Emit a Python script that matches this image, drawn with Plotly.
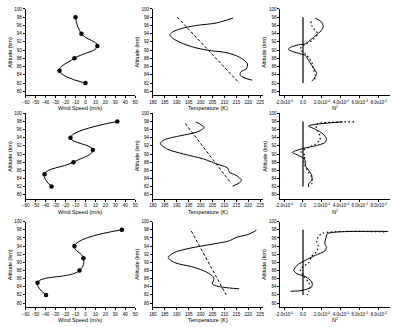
import plotly.graph_objects as go

# ---------------- data ----------------
wind_alt = [98, 94, 91, 88, 85, 82]
wind_r1 = [-10, -4, 12, -11, -26, 0]
wind_r2 = [32, -15, 7.5, -12, -41, -34]
wind_r3 = [36.5, -11, -2, -6, -48, -39.5]

temp1_alt = [97.8, 96.6, 96.0, 95.2, 94.4, 93.7, 92.9, 91.5, 90.5, 89.9, 89.4, 88.3, 86.7, 85.5, 84.7, 83.9, 83.3, 82.7]
temp1_T = [213.6, 206.6, 198.4, 191.6, 188.2, 187.1, 188.2, 193.0, 198.4, 203.9, 210.7, 216.2, 219.6, 219.2, 216.8, 216.6, 218.2, 221.6]
model1_alt = [98, 82]
model1_T = [190.2, 216.2]

temp2_alt = [97.9, 96.5, 95.4, 94.5, 93.5, 92.6, 91.2, 90.0, 88.8, 87.6, 86.5, 85.5, 84.8, 83.5, 82.9, 82.1]
temp2_T = [198.0, 201.4, 198.4, 191.6, 184.8, 183.1, 186.1, 192.9, 201.1, 206.6, 211.4, 212.1, 214.8, 217.1, 216.2, 213.4]
model2_alt = [97.5, 83]
model2_T = [193.6, 212.5]

temp3_alt = [97.9, 96.9, 96.1, 95.3, 94.5, 93.5, 92.4, 91.2, 90.0, 88.8, 87.6, 86.5, 85.7, 84.7, 84.1, 83.7, 83.5]
temp3_T = [223.4, 220.2, 214.8, 212.1, 205.2, 195.7, 188.9, 186.4, 188.9, 197.1, 202.5, 205.2, 205.5, 204.9, 207.3, 212.1, 216.2]
model3_alt = [97.7, 82]
model3_T = [196.1, 210.7]

# N^2 in units of 1e-4
n1_alt = [97.8, 96.8, 95.6, 94.4, 93.1, 92.1, 91.5, 91.3, 90.7, 90.2, 89.7, 89.1, 88.7, 87.5, 86.3, 85.1, 84.3, 83.5, 82.9, 82.4]
n1 = [1.28, 1.97, 2.14, 1.79, 1.10, 0.59, 0.24, -0.45, -1.31, -1.55, -1.14, -0.28, 0.24, 0.59, 0.93, 1.28, 1.45, 1.28, 1.10, 0.93]
n1d_alt = [97.0, 96.0, 94.8, 94.0, 92.3, 91.1, 90.3, 88.7, 87.1, 85.5, 83.9, 82.3]
n1d = [0.83, 0.93, 1.28, 1.55, 0.93, 0.0, -0.28, 0.41, 0.93, 1.10, 1.28, 1.20]

n2_alt = [97.9, 96.9, 96.1, 94.9, 93.7, 92.8, 92.0, 91.4, 90.8, 90.4, 89.8, 89.2, 88.4, 87.2, 86.0, 84.7, 83.5, 82.7, 81.9]
n2 = [4.2, 0.59, 1.28, 2.14, 2.48, 2.31, 1.28, 0.07, -0.79, -1.14, -0.62, -0.10, 0.24, 0.24, 0.59, 0.93, 0.93, 0.59, 0.59]
n2d_alt = [97.9, 97.2, 95.7, 94.5, 93.5, 92.4, 91.6, 90.5, 89.6, 88.4, 87.2, 85.5, 84.3, 82.7, 82.2]
n2d = [5.4, 1.4, 1.55, 1.79, 1.79, 1.28, 0.59, -0.20, 0.24, 0.07, 0.24, 0.59, 0.93, 0.93, 0.76]

n3_alt = [97.6, 97.1, 96.5, 94.5, 93.7, 92.8, 91.7, 90.5, 89.3, 88.0, 87.2, 86.5, 85.2, 84.0, 83.1, 82.9]
n3 = [9.0, 2.6, 2.48, 2.31, 2.48, 2.31, 1.28, 0.24, -0.62, -0.97, -0.62, 0.24, 0.93, 0.93, -0.10, -1.31]
n3d_alt = [97.5, 97.2, 96.3, 95.1, 93.9, 92.7, 91.5, 89.9, 88.3, 86.7, 85.1, 84.0, 82.8, 82.0]
n3d = [8.6, 2.14, 1.62, 1.45, 1.62, 1.45, 0.93, 0.59, -0.28, 0.07, 0.59, 0.76, 0.59, 0.41]

zero_line_alt = [82, 98]
zero_line_x = [0, 0]

alt_ticks = [80, 82, 84, 86, 88, 90, 92, 94, 96, 98, 100]
wind_ticks = [-60, -50, -40, -30, -20, -10, 0, 10, 20, 30, 40, 50]
temp_ticks = [180, 185, 190, 195, 200, 205, 210, 215, 220, 225]
n2_ticks = [-2, 0, 2, 4, 6, 8]
n2_ticktext = ["-2.0x10<sup>-4</sup>", "0.0", "2.0x10<sup>-4</sup>", "4.0x10<sup>-4</sup>",
               "6.0x10<sup>-4</sup>", "8.0x10<sup>-4</sup>"]

# ---------------- layout geometry ----------------
W, H = 394, 327
col_px = [(21, 133), (151, 263), (281, 393)]
row_px = [(7, 94), (112, 198), (221, 307)]

FONT = "Liberation Sans, Arial, sans-serif"
fig = go.Figure()


def ax(i):
    return ("x" if i == 1 else f"x{i}"), ("y" if i == 1 else f"y{i}")


wind = [wind_r1, wind_r2, wind_r3]
temps = [(temp1_T, temp1_alt, model1_T, model1_alt),
         (temp2_T, temp2_alt, model2_T, model2_alt),
         (temp3_T, temp3_alt, model3_T, model3_alt)]
ns = [(n1, n1_alt, n1d, n1d_alt), (n2, n2_alt, n2d, n2d_alt), (n3, n3_alt, n3d, n3d_alt)]

annotations = []
for r in range(3):
    i = r * 3 + 1
    xa, ya = ax(i)
    fig.add_trace(go.Scatter(x=wind[r], y=wind_alt, mode="lines+markers",
                             line=dict(color="black", width=1, shape="spline", smoothing=1.3),
                             marker=dict(color="black", size=4.5),
                             xaxis=xa, yaxis=ya, showlegend=False))
    i = r * 3 + 2
    xa, ya = ax(i)
    T, Ta, M, Ma = temps[r]
    fig.add_trace(go.Scatter(x=T, y=Ta, mode="lines",
                             line=dict(color="black", width=1, shape="spline", smoothing=0.9),
                             xaxis=xa, yaxis=ya, showlegend=False))
    fig.add_trace(go.Scatter(x=M, y=Ma, mode="lines",
                             line=dict(color="black", width=1, dash="3px,2px"),
                             xaxis=xa, yaxis=ya, showlegend=False))
    i = r * 3 + 3
    xa, ya = ax(i)
    N, Na, D, Da = ns[r]
    fig.add_trace(go.Scatter(x=zero_line_x, y=zero_line_alt, mode="lines",
                             line=dict(color="black", width=1.2),
                             xaxis=xa, yaxis=ya, showlegend=False))
    fig.add_trace(go.Scatter(x=N, y=Na, mode="lines",
                             line=dict(color="black", width=1, shape="spline", smoothing=0.8),
                             xaxis=xa, yaxis=ya, showlegend=False))
    fig.add_trace(go.Scatter(x=D, y=Da, mode="lines",
                             line=dict(color="black", width=1.2, dash="1.5px,2.5px", shape="spline", smoothing=0.8),
                             xaxis=xa, yaxis=ya, showlegend=False))

layout = dict(width=W, height=H, margin=dict(l=0, r=0, t=0, b=0),
              paper_bgcolor="white", plot_bgcolor="white",
              font=dict(family=FONT, color="black"))

xtitles = ["Wind Speed (m/s)", "Temperature (K)", "N<sup>2</sup>"]
xranges = [[-60, 50], [180, 226], [-2.4, 9.2]]
for r in range(3):
    for c in range(3):
        i = r * 3 + c + 1
        x0, x1 = col_px[c]
        y0, y1 = row_px[r]
        xd = [x0 / W, x1 / W]
        yd = [1 - y1 / H, 1 - y0 / H]
        xk = "xaxis" if i == 1 else f"xaxis{i}"
        yk = "yaxis" if i == 1 else f"yaxis{i}"
        yname = "y" if i == 1 else f"y{i}"
        xname = "x" if i == 1 else f"x{i}"
        xa = dict(domain=xd, anchor=yname, range=xranges[c], showgrid=False, zeroline=False,
                  showline=True, linecolor="black", linewidth=1, ticks="outside", ticklen=2,
                  tickwidth=0.8, tickcolor="black", tickangle=0,
                  tickfont=dict(size=4.5, family=FONT))
        if c == 0:
            xa.update(tickmode="array", tickvals=wind_ticks)
        elif c == 1:
            xa.update(tickmode="array", tickvals=temp_ticks)
        else:
            xa.update(tickmode="array", tickvals=n2_ticks, ticktext=n2_ticktext)
        ya = dict(domain=yd, anchor=xname, range=[79, 100], showgrid=False, zeroline=False,
                  showline=True, linecolor="black", linewidth=1, ticks="outside", ticklen=2,
                  tickwidth=0.8, tickcolor="black", tickfont=dict(size=4.5, family=FONT),
                  tickmode="array", tickvals=alt_ticks)
        layout[xk] = xa
        layout[yk] = ya
        annotations.append(dict(text=xtitles[c], xref="paper", yref="paper",
                                x=(x0 + x1) / 2 / W, y=1 - (y1 + 13) / H, showarrow=False,
                                font=dict(size=5.5, family=FONT), xanchor="center", yanchor="middle"))
        annotations.append(dict(text="Altitude (km)", xref="paper", yref="paper",
                                x=(x0 - 16) / W, y=1 - ((y0 + y1) / 2) / H, showarrow=False,
                                textangle=-90, font=dict(size=5.5, family=FONT),
                                xanchor="center", yanchor="middle"))

layout["annotations"] = annotations
fig.update_layout(**layout)
fig.write_html("out.html")
